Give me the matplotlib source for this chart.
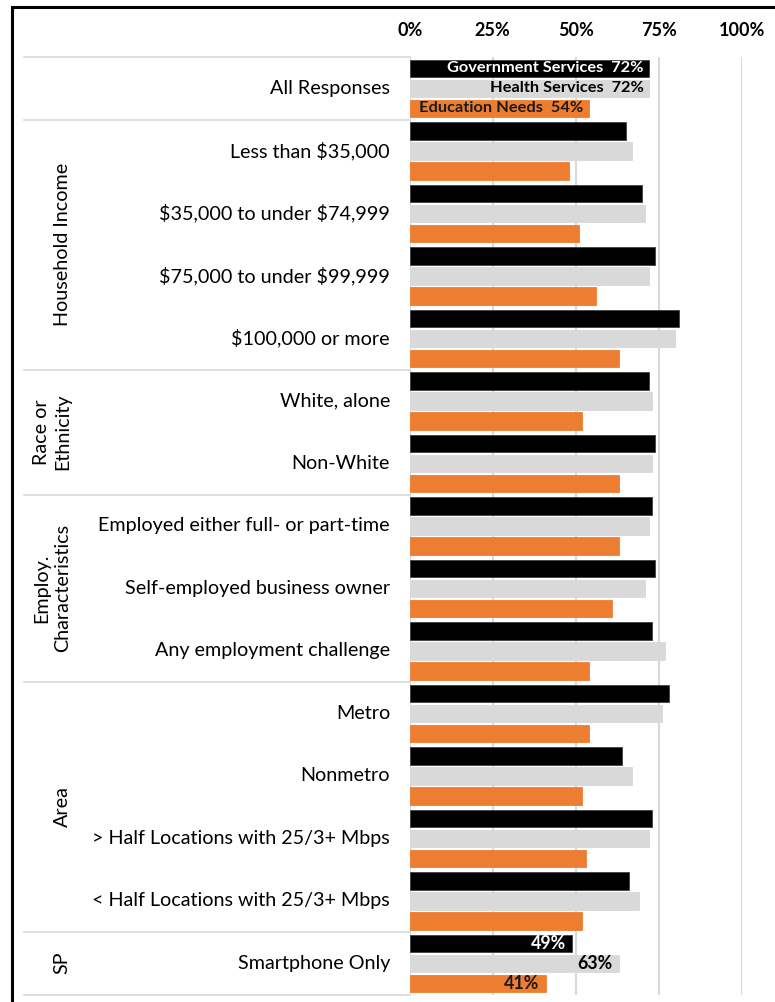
import matplotlib
matplotlib.use("Agg")
import matplotlib.pyplot as plt
from matplotlib.patches import Rectangle

plt.rcParams['font.family'] = ['Lato', 'DejaVu Sans']
plt.rcParams['text.parse_math'] = False

categories = ['All Responses', 'Less than $35,000', '$35,000 to under $74,999',
              '$75,000 to under $99,999', '$100,000 or more', 'White, alone',
              'Non-White', 'Employed either full- or part-time',
              'Self-employed business owner', 'Any employment challenge',
              'Metro', 'Nonmetro', '> Half Locations with 25/3+ Mbps',
              '< Half Locations with 25/3+ Mbps', 'Smartphone Only']
gov = [72, 65, 70, 74, 81, 72, 74, 73, 74, 73, 78, 64, 73, 66, 49]
health = [72, 67, 71, 72, 80, 73, 73, 72, 71, 77, 76, 67, 72, 69, 63]
edu = [54, 48, 51, 56, 63, 52, 63, 63, 61, 54, 54, 52, 53, 52, 41]
series_names = ['Government Services', 'Health Services', 'Education Needs']
colors = ['#000000', '#D9D9D9', '#ED7D31']
label_colors = ['white', 'black', '#1a1a1a']

groups = ['Household Income', 'Race or\nEthnicity', 'Employ.\nCharacteristics', 'Area', 'SP']
group_rows = [(1, 4), (5, 6), (7, 9), (10, 13), (14, 14)]
separators = [-0.5, 0.5, 4.5, 6.5, 9.5, 13.5, 14.5]
xticks = [0, 25, 50, 75, 100]

W, H = 775, 1002
fig = plt.figure(figsize=(W / 100, H / 100), dpi=100)

left_px, right_px = 409.7, 741.7
top_px, bot_px = 57, 994.5
ax = fig.add_axes([left_px / W, 1 - bot_px / H, (right_px - left_px) / W, (bot_px - top_px) / H])

n = len(categories)
ys = list(range(n))
off = 0.32
hgt = 0.28
all_series = [gov, health, edu]
for k, vals in enumerate(all_series):
    pos = [y + (k - 1) * off for y in ys]
    ax.barh(pos, vals, height=hgt, color=colors[k],
            edgecolor='#404040' if k == 0 else colors[k], linewidth=0.6, zorder=3)

# data labels on first and last category
for k, vals in enumerate(all_series):
    y = 0 + (k - 1) * off
    ax.text(vals[0] - 1.6, y, f'{series_names[k]}  {vals[0]}%', ha='right', va='center',
            fontsize=11.8, fontweight='bold', color=label_colors[k], zorder=4)
    y = n - 1 + (k - 1) * off
    ax.text(vals[-1] - 2.0, y, f'{vals[-1]}%', ha='right', va='center',
            fontsize=12.8, fontweight='bold', color=label_colors[k], zorder=4)

ax.set_xlim(0, 100)
ax.set_ylim(n - 0.5, -0.5)
for x in xticks:
    ax.axvline(x, color='#D9D9D9', linewidth=1.5, zorder=1)
ax.xaxis.tick_top()
ax.set_xticks(xticks)
ax.set_xticklabels([f'{x}%' for x in xticks], fontsize=13, fontweight='bold')
ax.tick_params(axis='x', length=0, pad=13)
ax.set_yticks([])
for s in ax.spines.values():
    s.set_visible(False)

# left label panel
lx0 = 24
axl = fig.add_axes([lx0 / W, 1 - bot_px / H, (left_px - lx0) / W, (bot_px - top_px) / H])
axl.set_xlim(lx0, left_px)
axl.set_ylim(n - 0.5, -0.5)
axl.axis('off')
for s in separators:
    axl.plot([lx0, left_px], [s, s], color='#D9D9D9', linewidth=1.2, clip_on=False)
for i, c in enumerate(categories):
    axl.text(390, i, c, ha='right', va='center', fontsize=14.2, color='black')
for g, (a, b) in zip(groups, group_rows):
    xg = 52 if '\n' in g else 62
    axl.text(xg, (a + b) / 2, g, rotation=90, ha='center', va='center',
             fontsize=14.2, color='black', linespacing=1.3, multialignment='center')

# outer frame
fig.patches.append(Rectangle((11.5 / W, -0.05), 1.2, 1.05 - 7.5 / H, transform=fig.transFigure,
                             fill=False, edgecolor='black', linewidth=2.2, zorder=10))

fig.savefig('out.png', dpi=100)
